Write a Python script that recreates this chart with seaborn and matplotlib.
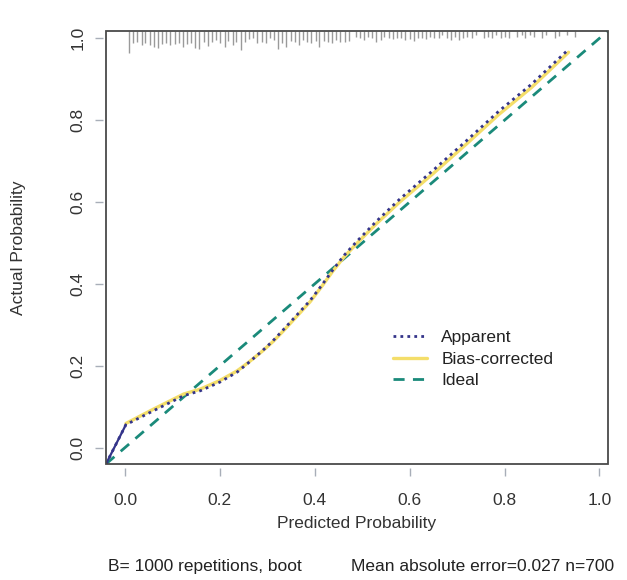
import matplotlib
matplotlib.use("Agg")
import matplotlib.pyplot as plt
import matplotlib.patches as mpatches
import numpy as np
import pandas as pd
import seaborn as sns

# calibration curves
app_x = [-0.04, 0.002, 0.06, 0.124, 0.159, 0.20, 0.237, 0.26, 0.29, 0.312, 0.333, 0.36, 0.39,
         0.415, 0.438, 0.462, 0.488, 0.53, 0.579, 0.648, 0.719, 0.788, 0.857, 0.935]
app_y = [-0.04, 0.056, 0.09, 0.127, 0.139, 0.16, 0.185, 0.207, 0.237, 0.261, 0.287, 0.321, 0.359,
         0.397, 0.434, 0.470, 0.503, 0.553, 0.607, 0.676, 0.749, 0.822, 0.888, 0.973]
bias_x = [0.002, 0.06, 0.124, 0.159, 0.20, 0.237, 0.26, 0.29, 0.312, 0.333, 0.36, 0.39,
          0.415, 0.438, 0.462, 0.488, 0.53, 0.579, 0.648, 0.719, 0.788, 0.857, 0.935]
bias_y = [0.059, 0.094, 0.131, 0.143, 0.164, 0.188, 0.208, 0.236, 0.259, 0.284, 0.318, 0.356,
          0.394, 0.431, 0.466, 0.498, 0.547, 0.600, 0.668, 0.741, 0.814, 0.880, 0.966]

# spike histogram of predictions along the top
rug_x = [0.008, 0.017, 0.026, 0.035, 0.043, 0.052, 0.061, 0.070, 0.078, 0.087, 0.096, 0.105,
         0.113, 0.122, 0.131, 0.140, 0.148, 0.157, 0.166, 0.175, 0.183, 0.192, 0.201, 0.210,
         0.218, 0.227, 0.235, 0.245, 0.253, 0.262, 0.270, 0.279, 0.288, 0.297, 0.305, 0.314,
         0.323, 0.332, 0.340, 0.349, 0.358, 0.367, 0.375, 0.384, 0.393, 0.402, 0.410, 0.419,
         0.428, 0.437, 0.445, 0.454, 0.463, 0.472,
         0.486, 0.495, 0.504, 0.512, 0.521, 0.530, 0.539, 0.547, 0.556, 0.565, 0.574, 0.582,
         0.591, 0.600, 0.609, 0.617, 0.626, 0.635, 0.644, 0.652, 0.661, 0.669, 0.679, 0.687,
         0.696, 0.704, 0.713, 0.722, 0.731, 0.739, 0.757, 0.766, 0.774, 0.783, 0.792, 0.801,
         0.809, 0.827, 0.836, 0.844, 0.853, 0.862, 0.879, 0.888, 0.906, 0.914, 0.931, 0.949]
rug_n = [22, 12, 11, 14, 12, 14, 16, 17, 13, 12, 14, 13, 12, 16, 13, 12, 17, 18, 11, 15,
         11, 9, 12, 16, 10, 14, 11, 19, 11, 8, 7, 12, 11, 12, 7, 9, 18, 12, 16, 10,
         11, 14, 9, 11, 12, 10, 16, 10, 11, 12, 9, 11, 11, 10,
         6, 7, 9, 6, 7, 11, 9, 6, 7, 8, 7, 7, 9, 8, 10, 7, 7, 8, 6, 7,
         7, 4, 7, 9, 6, 9, 7, 6, 7, 4, 7, 6, 7, 4, 7, 6, 7, 6, 4, 7, 4, 6, 7, 4, 7, 5, 4, 6]

ticks = [0.0, 0.2, 0.4, 0.6, 0.8, 1.0]
tick_labels = ["0.0", "0.2", "0.4", "0.6", "0.8", "1.0"]

sns.set_style("white")
plt.rcParams['font.family'] = ['Liberation Sans', 'DejaVu Sans']

fig = plt.figure(figsize=(6.27, 5.8), dpi=100)
ax = fig.add_axes([0.169, 0.2, 0.8006, 0.7466])
lo, hi = -0.04, 1.018
ax.set_xlim(lo, hi)
ax.set_ylim(lo, hi)

# ideal
ax.axline((0, 0), (1, 1), color="#1a8a7a", lw=2.0, ls=(0, (4, 3)), label="Ideal", zorder=2)

df_app = pd.DataFrame({"x": app_x, "y": app_y})
df_bias = pd.DataFrame({"x": bias_x, "y": bias_y})
sns.lineplot(data=df_bias, x="x", y="y", ax=ax, color="#f4de6a", lw=2.4, sort=False,
             label="Bias-corrected", zorder=3)
sns.lineplot(data=df_app, x="x", y="y", ax=ax, color="#34348a", lw=2.0, sort=False,
             linestyle=(0, (1, 1.5)), label="Apparent", zorder=4)
sns.lineplot(data=df_app.iloc[:2], x="x", y="y", ax=ax, color="#34348a", lw=1.6,
             sort=False, zorder=4, legend=False)

# spikes hanging from the top
rx = np.array(rug_x)
rn = np.array(rug_n) / 410
ax.vlines(rx, hi - rn, hi, color="#9a9a9a", lw=1.0, zorder=1)

# box + offset axes (R style)
for s in ax.spines.values():
    s.set_visible(False)
ax.spines['bottom'].set_position(('outward', 3))
ax.spines['left'].set_position(('outward', 2))
ax.add_patch(mpatches.Rectangle((0, 0), 1, 1, transform=ax.transAxes, fill=False,
                                ec="#4a4a4a", lw=1.3, clip_on=False, zorder=5))

ax.set_xticks(ticks)
ax.set_xticklabels(tick_labels)
ax.set_yticks(ticks)
ax.set_yticklabels(tick_labels, rotation=90, va="center")
ax.tick_params(axis="both", direction="out", length=6, width=1.0, color="#a8aeb8",
               labelcolor="#333333", labelsize=12.5, bottom=True, left=True)
ax.tick_params(axis="x", pad=12)
ax.tick_params(axis="y", pad=7)

ax.set_xlabel("Predicted Probability", fontsize=12.5, color="#333333")
ax.set_ylabel("Actual Probability", fontsize=12.5, color="#333333")
ax.xaxis.set_label_coords(0.5, -0.12)
ax.yaxis.set_label_coords(-0.159, 0.5)

h, l = ax.get_legend_handles_labels()
order = [l.index("Apparent"), l.index("Bias-corrected"), l.index("Ideal")]
ax.legend([h[i] for i in order], [l[i] for i in order], loc="upper left",
          bbox_to_anchor=(0.54, 0.345), frameon=False, fontsize=12.5,
          handlelength=2.0, handletextpad=0.8, labelspacing=0.35, labelcolor="#222222")

fig.text(0.172, 0.015, "B= 1000 repetitions, boot", fontsize=12.5, color="#222222")
fig.text(0.98, 0.015, "Mean absolute error=0.027 n=700", fontsize=12.5, color="#222222",
         ha="right")

fig.savefig("out.png", dpi=100, facecolor="white")
